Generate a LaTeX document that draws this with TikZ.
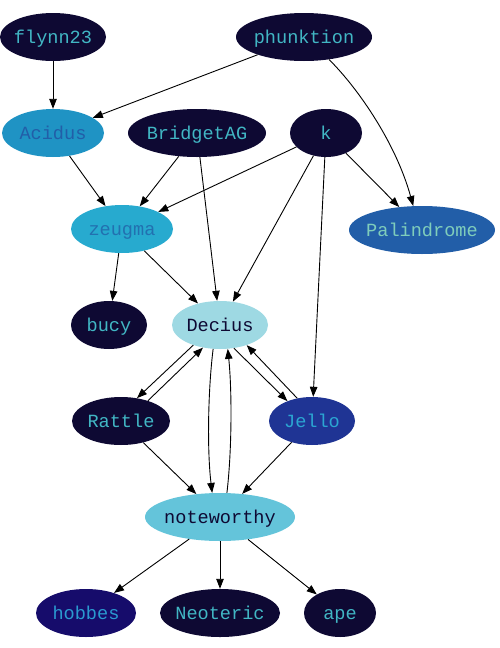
\documentclass[tikz,border=0pt]{standalone}
\usepackage{fontspec}
\setmonofont{Liberation Mono}
\usetikzlibrary{arrows.meta, shapes.geometric}
\definecolor{navy}{HTML}{0E0933}
\definecolor{tealtext}{HTML}{41B6C4}
\definecolor{acidfill}{HTML}{1F93C4}
\definecolor{acidtext}{HTML}{225EA8}
\definecolor{zeugfill}{HTML}{27AACF}
\definecolor{zeugtext}{HTML}{2270B0}
\definecolor{palfill}{HTML}{225EA8}
\definecolor{paltext}{HTML}{7FCDBB}
\definecolor{decfill}{HTML}{9ED9E3}
\definecolor{jellofill}{HTML}{1F3494}
\definecolor{jellotext}{HTML}{2BA6D2}
\definecolor{notefill}{HTML}{64C4DA}
\definecolor{hobfill}{HTML}{160C6B}
\definecolor{hobtext}{HTML}{2A9AD0}

\begin{document}
\begin{tikzpicture}[
  x=1pt, y=1pt,
  user/.style={ellipse, fill=navy, text=tealtext, minimum height=48pt, inner ysep=0pt, inner xsep=-6pt, text height=13pt, text depth=0pt, font=\ttfamily\fontsize{18.6}{20}\selectfont},
  link/.style={->, line width=0.9pt},
  >={Triangle[length=10pt, width=7.5pt]}
]
\useasboundingbox (0,0) rectangle (499,-648);

\node[user, minimum width=106pt] (flynn) at (53,-37) {flynn23};
\node[user, minimum width=136pt] (phunk) at (304,-37) {phunktion};
\node[user, minimum width=102pt, fill=acidfill, text=acidtext] (acidus) at (53,-133) {Acidus};
\node[user, minimum width=138pt] (bridget) at (197,-133) {BridgetAG};
\node[user, minimum width=72pt] (k) at (326,-133) {k};
\node[user, minimum width=146pt, fill=palfill, text=paltext] (palin) at (422,-230) {Palindrome};
\node[user, minimum width=102pt, fill=zeugfill, text=zeugtext] (zeugma) at (122,-229) {zeugma};
\node[user, minimum width=76pt] (bucy) at (109,-325) {bucy};
\node[user, minimum width=96pt, fill=decfill, text=navy] (decius) at (220,-325) {Decius};
\node[user, minimum width=98pt] (rattle) at (121,-421) {Rattle};
\node[user, minimum width=86pt, fill=jellofill, text=jellotext] (jello) at (312,-421) {Jello};
\node[user, minimum width=150pt, fill=notefill, text=navy] (note) at (220,-517) {noteworthy};
\node[user, minimum width=100pt, fill=hobfill, text=hobtext] (hobbes) at (86,-613) {hobbes};
\node[user, minimum width=120pt] (neoteric) at (220,-613) {Neoteric};
\node[user, minimum width=72pt] (ape) at (340,-613) {ape};

\draw[link] (flynn) -- (acidus);
\draw[link] (phunk) -- (acidus);
\draw[link] (phunk.318) .. controls (355,-85) and (395,-140) .. (palin.110);
\draw[link] (acidus) -- (zeugma);
\draw[link] (bridget) -- (zeugma);
\draw[link] (bridget) -- (decius);
\draw[link] (k) -- (zeugma);
\draw[link] (k) -- (decius);
\draw[link] (k) -- (palin);
\draw[link] (k) -- (jello);
\draw[link] (zeugma) -- (bucy);
\draw[link] (zeugma) -- (decius);
\draw[link] (decius.217) -- (rattle.55);
\draw[link] (rattle.37) -- (decius.233);
\draw[link] (decius.301) -- (jello.141);
\draw[link] (jello.123) -- (decius.323);
\draw[link] (decius.254) .. controls (208,-390) and (207,-450) .. (note.108);
\draw[link] (note.74) .. controls (232,-450) and (232,-390) .. (decius.288);
\draw[link] (rattle) -- (note);
\draw[link] (jello) -- (note);
\draw[link] (note) -- (hobbes);
\draw[link] (note) -- (neoteric);
\draw[link] (note) -- (ape);
\end{tikzpicture}
\end{document}
